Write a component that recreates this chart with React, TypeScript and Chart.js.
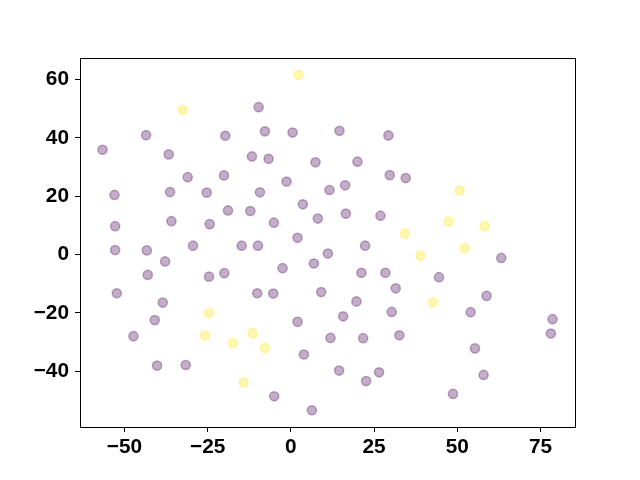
import React, { useEffect, useRef } from "react";
import { Chart, registerables } from "chart.js";

Chart.register(...registerables);

// Group 0 (purple)
const purpleX = [
  -9.7, -43.5, -19.7, -7.8, 0.5, -56.6, -36.7, -11.7, -6.7, 7.4,
  -31.0, -20.1, -1.3, 11.6, -53.0, -36.3, -25.3, -9.3, 3.6, -18.9,
  -12.2, 8.1, -52.8, -35.9, -24.4, -5.1, 2.0, 14.6, 29.3, 20.0,
  29.7, 34.5, 16.3, 16.5, 26.9, 22.3, -52.8, -43.3, -29.4, -14.8,
  -9.9, -37.8, 11.1, -2.5, 6.9, -43.0, -24.6, -20.0, -52.3, -10.1,
  -5.3, 9.1, -38.5, -40.9, 2.0, -47.3, 3.9, -40.2, -31.6, -5.0,
  6.3, 63.2, 21.2, 28.4, 44.5, 31.5, 19.7, 58.8, 15.7, 30.3,
  54.0, 78.6, 78.1, 11.9, 21.7, 32.6, 55.3, 14.5, 26.5, 22.6,
  57.9, 48.7,
];
const purpleY = [
  50.5, 40.9, 40.7, 42.2, 41.8, 35.9, 34.3, 33.6, 32.8, 31.6,
  26.5, 27.1, 25.0, 22.1, 20.4, 21.4, 21.2, 21.3, 17.2, 15.1,
  14.9, 12.3, 9.7, 11.4, 10.4, 10.9, 5.7, 42.4, 40.8, 31.8,
  27.2, 26.2, 23.7, 14.0, 13.3, 3.0, 1.5, 1.4, 3.0, 3.0,
  3.0, -2.4, 0.3, -4.7, -3.1, -7.0, -7.6, -6.4, -13.3, -13.3,
  -13.4, -12.9, -16.5, -22.5, -23.1, -28.0, -34.3, -38.1, -37.9, -48.6,
  -53.4, -1.2, -6.3, -6.3, -7.8, -11.6, -16.1, -14.2, -21.2, -19.7,
  -19.8, -22.2, -27.1, -28.6, -28.7, -27.7, -32.2, -39.8, -40.4, -43.4,
  -41.3, -47.8,
];

// Group 1 (yellow)
const yellowX = [
  2.3, -32.5, 50.7, 47.4, 58.2, 34.3, 52.2, 38.9, 42.7, -24.6,
  -25.8, -17.4, -11.5, -7.8, -14.2,
];
const yellowY = [
  61.6, 49.5, 21.9, 11.3, 9.8, 7.2, 2.1, -0.4, -16.4, -20.1,
  -27.8, -30.3, -27.0, -32.1, -43.9,
];

const xTicks = [-50, -25, 0, 25, 50, 75];
const yTicks = [-40, -20, 0, 20, 40, 60];

const PURPLE = "rgba(68, 1, 84, 0.32)";
const YELLOW = "rgba(253, 231, 37, 0.35)";

function fmt(v: number): string {
  return v < 0 ? "\u2212" + String(Math.abs(v)) : String(v);
}

const frame = {
  id: "frame",
  afterDraw(chart: any) {
    const { ctx, chartArea } = chart;
    ctx.save();
    ctx.strokeStyle = "#000";
    ctx.lineWidth = 1;
    ctx.strokeRect(
      Math.round(chartArea.left) + 0.5,
      Math.round(chartArea.top) + 0.5,
      Math.round(chartArea.right - chartArea.left),
      Math.round(chartArea.bottom - chartArea.top)
    );
    ctx.restore();
  },
};

export default function App() {
  const ref = useRef<HTMLCanvasElement | null>(null);

  useEffect(() => {
    document.body.style.margin = "0";
    const allX = [...purpleX, ...yellowX];
    const allY = [...purpleY, ...yellowY];
    const xmin = Math.min(...allX), xmax = Math.max(...allX);
    const ymin = Math.min(...allY), ymax = Math.max(...allY);
    const mx = (xmax - xmin) * 0.05, my = (ymax - ymin) * 0.05;

    const font = { family: "'Liberation Sans', Arial, sans-serif", size: 20.8, weight: "bold" as const };

    const chart = new Chart(ref.current as HTMLCanvasElement, {
      type: "scatter",
      data: {
        datasets: [
          {
            data: purpleX.map((x, i) => ({ x, y: purpleY[i] })),
            backgroundColor: PURPLE,
            borderColor: PURPLE,
            borderWidth: 1.5,
            pointRadius: 4.6,
          },
          {
            data: yellowX.map((x, i) => ({ x, y: yellowY[i] })),
            backgroundColor: YELLOW,
            borderColor: YELLOW,
            borderWidth: 1.5,
            pointRadius: 4.6,
          },
        ],
      },
      options: {
        responsive: false,
        animation: false,
        events: [],
        layout: { padding: { left: 0, top: 58, right: 65, bottom: 0 } },
        plugins: { legend: { display: false }, tooltip: { enabled: false } },
        scales: {
          x: {
            type: "linear",
            min: xmin - mx,
            max: xmax + mx,
            afterBuildTicks: (axis: any) => {
              axis.ticks = xTicks.map((v) => ({ value: v }));
            },
            afterFit: (scale: any) => {
              scale.height = 53;
            },
            grid: {
              display: true,
              drawOnChartArea: false,
              drawTicks: true,
              tickLength: 5,
              color: "#000",
              lineWidth: 1,
            },
            border: { display: true, color: "#000", width: 1 },
            ticks: {
              color: "#000",
              font,
              padding: 3,
              maxRotation: 0,
              autoSkip: false,
              callback: (v: any) => fmt(Number(v)),
            },
          },
          y: {
            type: "linear",
            min: ymin - my,
            max: ymax + my,
            afterBuildTicks: (axis: any) => {
              axis.ticks = yTicks.map((v) => ({ value: v }));
            },
            afterFit: (scale: any) => {
              scale.width = 80;
            },
            grid: {
              display: true,
              drawOnChartArea: false,
              drawTicks: true,
              tickLength: 5,
              color: "#000",
              lineWidth: 1,
            },
            border: { display: true, color: "#000", width: 1 },
            ticks: {
              color: "#000",
              font,
              padding: 6,
              autoSkip: false,
              callback: (v: any) => fmt(Number(v)),
            },
          },
        },
      },
      plugins: [frame],
    });
    return () => chart.destroy();
  }, []);

  return (
    <div style={{ position: "absolute", left: 0, top: 0, width: 640, height: 480, background: "#fff" }}>
      <canvas ref={ref} width={640} height={480} style={{ width: 640, height: 480 }} />
    </div>
  );
}
